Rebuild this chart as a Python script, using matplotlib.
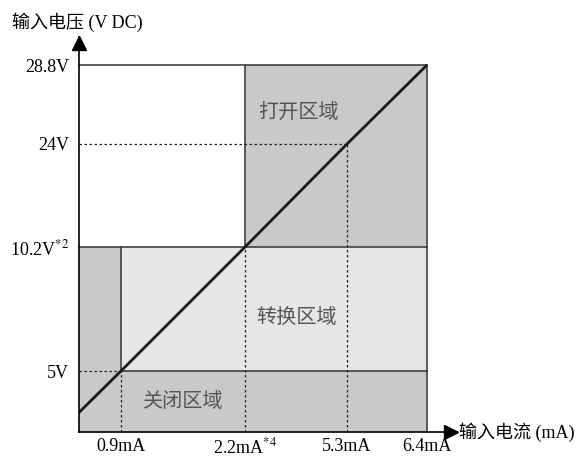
import numpy as np
import matplotlib
matplotlib.use("Agg")
import matplotlib.pyplot as plt

# 数据：电流 (mA) 与电压 (V DC) 刻度
current_ticks = [0.9, 2.2, 5.3, 6.4]
current_labels = ["0.9mA", "2.2mA$^{*4}$", "5.3mA", "6.4mA"]
voltage_ticks = [5, 10.2, 24, 28.8]
voltage_labels = ["5V", "10.2V$^{*2}$", "24V", "28.8V"]

# 特性直线 (示意)
line_current = [0, 0.9, 2.2, 5.3, 6.4]
line_voltage = [1.6, 5, 10.2, 24, 28.8]

# 区域标签
region_names = ["打开区域", "转换区域", "关闭区域"]
region_x = [3.81, 3.75, 1.54]
region_y = [25.9, 7.2, 2.46]

# 示意图的非线性刻度位置 (像素间距)
x_breaks = [0, 0.9, 2.2, 5.3, 6.4]
x_pix = [0, 42, 166, 268, 348]
y_breaks = [0, 5, 10.2, 24, 28.8]
y_pix = [0, 61, 185, 288, 367]

plt.rcParams['font.family'] = ['Liberation Serif', 'Noto Sans CJK SC']
plt.rcParams['mathtext.fontset'] = 'stix'


def piecewise(vals, pos):
    vals = np.asarray(vals, float)
    pos = np.asarray(pos, float)
    slope = (pos[-1] - pos[-2]) / (vals[-1] - vals[-2])

    def fwd(v):
        v = np.asarray(v, float)
        return np.where(v > vals[-1], pos[-1] + (v - vals[-1]) * slope,
                        np.interp(v, vals, pos))

    def inv(p):
        p = np.asarray(p, float)
        return np.where(p > pos[-1], vals[-1] + (p - pos[-1]) / slope,
                        np.interp(p, pos, vals))
    return fwd, inv


W, H = 584, 458
fig = plt.figure(figsize=(W / 100, H / 100), dpi=100)
ax = fig.add_axes([79 / W, 26 / H, 378 / W, 395 / H])

fx, ix = piecewise(x_breaks, x_pix)
fy, iy = piecewise(y_breaks, y_pix)
ax.set_xscale('function', functions=(fx, ix))
ax.set_yscale('function', functions=(fy, iy))
ax.set_xlim(0, float(ix(378)))
ax.set_ylim(0, float(iy(395)))

dark = '#c9c9cb'
light = '#e6e6e7'
edge = '#333333'

x1, x2, x3, x4 = current_ticks
v1, v2, v3, v4 = voltage_ticks

# 区域填充
ax.fill_between([x2, x4], v2, v4, color=dark, lw=0)
ax.fill_between([x1, x4], v1, v2, color=light, lw=0)
ax.fill_between([0, x1], v1, v2, color=dark, lw=0)
ax.fill_between([0, x4], 0, v1, color=dark, lw=0)

# 实线边框
ax.plot([0, x4], [v4, v4], color=edge, lw=1.1)
ax.plot([x4, x4], [0, v4], color=edge, lw=1.1)
ax.plot([x2, x2], [v2, v4], color=edge, lw=1.1)
ax.plot([0, x4], [v2, v2], color=edge, lw=1.1)
ax.plot([x1, x1], [v1, v2], color=edge, lw=1.1)
ax.plot([x1, x4], [v1, v1], color=edge, lw=1.1)

# 虚线
dot = dict(color='#222222', lw=0.9, ls=(0, (2, 2)))
ax.plot([0, x1], [v1, v1], **dot)
ax.plot([x1, x1], [0, v1], **dot)
ax.plot([x2, x2], [0, v2], **dot)
ax.plot([0, x3], [v3, v3], **dot)
ax.plot([x3, x3], [0, v3], **dot)

# 特性线
ax.plot(line_current, line_voltage, color='#1a1a1a', lw=2.0, solid_capstyle='butt')

for name, xx, yy in zip(region_names, region_x, region_y):
    ax.text(xx, yy, name, ha='center', va='center', fontsize=14.5,
            color='#555555', family=['Noto Sans CJK SC'])

# 坐标轴
for s in ['top', 'right']:
    ax.spines[s].set_visible(False)
for s in ['left', 'bottom']:
    ax.spines[s].set_linewidth(1.2)
    ax.spines[s].set_color('black')
ax.plot([1 - 6 / 378], [0], marker='>', ms=10, color='black',
        transform=ax.transAxes, clip_on=False)
ax.plot([0], [1 - 6 / 395], marker='^', ms=10, color='black',
        transform=ax.transAxes, clip_on=False)

ax.set_xticks(current_ticks, current_labels)
ax.set_yticks(voltage_ticks, voltage_labels)
ax.xaxis.set_minor_locator(matplotlib.ticker.NullLocator())
ax.yaxis.set_minor_locator(matplotlib.ticker.NullLocator())
ax.tick_params(axis='x', length=0, pad=4, labelsize=13)
ax.tick_params(axis='y', length=0, pad=7, labelsize=13)

fig.text(12 / W, 1 - 22 / H, "输入电压 (V DC)", ha='left', va='center', fontsize=13)
fig.text(459 / W, 26 / H, "输入电流 (mA)", ha='left', va='center', fontsize=13)

fig.savefig("out.png", dpi=100)
